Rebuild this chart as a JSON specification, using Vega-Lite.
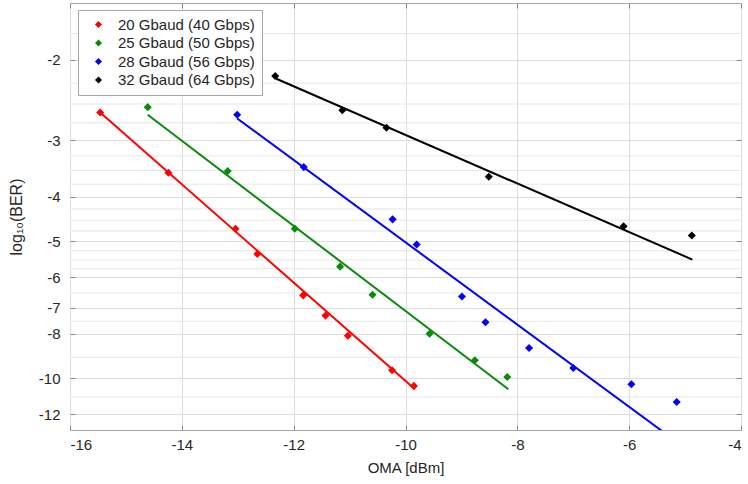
{
  "$schema": "https://vega.github.io/schema/vega-lite/v6.json",
  "width": 671,
  "height": 427,
  "autosize": {"type": "none"},
  "padding": {"left": 70, "top": 3, "right": 7, "bottom": 54},
  "config": {
    "font": "Liberation Sans",
    "view": {"stroke": "#a6a6a6", "strokeWidth": 1},
    "axis": {
      "labelFont": "Liberation Sans",
      "titleFont": "Liberation Sans",
      "labelFontSize": 15,
      "titleFontSize": 15,
      "titleFontWeight": "normal",
      "labelColor": "#262626",
      "titleColor": "#262626",
      "tickColor": "#8a8a8a",
      "gridColor": "#dedede",
      "domain": false
    }
  },
  "datasets": {
    "pts": [
      {"series": "20 Gbaud (40 Gbps)", "oma": -15.46, "ber": -2.61},
      {"series": "20 Gbaud (40 Gbps)", "oma": -14.24, "ber": -3.54},
      {"series": "20 Gbaud (40 Gbps)", "oma": -13.04, "ber": -4.70},
      {"series": "20 Gbaud (40 Gbps)", "oma": -12.65, "ber": -5.34},
      {"series": "20 Gbaud (40 Gbps)", "oma": -11.83, "ber": -6.58},
      {"series": "20 Gbaud (40 Gbps)", "oma": -11.43, "ber": -7.29},
      {"series": "20 Gbaud (40 Gbps)", "oma": -11.03, "ber": -8.07},
      {"series": "20 Gbaud (40 Gbps)", "oma": -10.24, "ber": -9.61},
      {"series": "20 Gbaud (40 Gbps)", "oma": -9.85, "ber": -10.40},
      {"series": "25 Gbaud (50 Gbps)", "oma": -14.61, "ber": -2.54},
      {"series": "25 Gbaud (50 Gbps)", "oma": -13.18, "ber": -3.51},
      {"series": "25 Gbaud (50 Gbps)", "oma": -11.98, "ber": -4.70},
      {"series": "25 Gbaud (50 Gbps)", "oma": -11.17, "ber": -5.69},
      {"series": "25 Gbaud (50 Gbps)", "oma": -10.59, "ber": -6.56},
      {"series": "25 Gbaud (50 Gbps)", "oma": -9.57, "ber": -7.99},
      {"series": "25 Gbaud (50 Gbps)", "oma": -8.76, "ber": -9.14},
      {"series": "25 Gbaud (50 Gbps)", "oma": -8.18, "ber": -9.94},
      {"series": "28 Gbaud (56 Gbps)", "oma": -13.01, "ber": -2.64},
      {"series": "28 Gbaud (56 Gbps)", "oma": -11.82, "ber": -3.44},
      {"series": "28 Gbaud (56 Gbps)", "oma": -10.23, "ber": -4.48},
      {"series": "28 Gbaud (56 Gbps)", "oma": -9.80, "ber": -5.09},
      {"series": "28 Gbaud (56 Gbps)", "oma": -8.99, "ber": -6.62},
      {"series": "28 Gbaud (56 Gbps)", "oma": -8.57, "ber": -7.54},
      {"series": "28 Gbaud (56 Gbps)", "oma": -7.79, "ber": -8.59},
      {"series": "28 Gbaud (56 Gbps)", "oma": -7.00, "ber": -9.50},
      {"series": "28 Gbaud (56 Gbps)", "oma": -5.96, "ber": -10.31},
      {"series": "28 Gbaud (56 Gbps)", "oma": -5.15, "ber": -11.28},
      {"series": "32 Gbaud (64 Gbps)", "oma": -12.33, "ber": -2.17},
      {"series": "32 Gbaud (64 Gbps)", "oma": -11.13, "ber": -2.58},
      {"series": "32 Gbaud (64 Gbps)", "oma": -10.34, "ber": -2.82},
      {"series": "32 Gbaud (64 Gbps)", "oma": -8.51, "ber": -3.61},
      {"series": "32 Gbaud (64 Gbps)", "oma": -6.10, "ber": -4.64},
      {"series": "32 Gbaud (64 Gbps)", "oma": -4.88, "ber": -4.86}
    ],
    "fits": [
      {"series": "20 Gbaud (40 Gbps)", "oma": -15.46, "ber": -2.61},
      {"series": "20 Gbaud (40 Gbps)", "oma": -9.83, "ber": -10.58},
      {"series": "25 Gbaud (50 Gbps)", "oma": -14.61, "ber": -2.64},
      {"series": "25 Gbaud (50 Gbps)", "oma": -8.16, "ber": -10.58},
      {"series": "28 Gbaud (56 Gbps)", "oma": -13.01, "ber": -2.69},
      {"series": "28 Gbaud (56 Gbps)", "oma": -5.40, "ber": -13.1},
      {"series": "32 Gbaud (64 Gbps)", "oma": -12.31, "ber": -2.20},
      {"series": "32 Gbaud (64 Gbps)", "oma": -4.87, "ber": -5.49}
    ],
    "minor": [
      {"ber": -1.75}, {"ber": -2.25}, {"ber": -2.5}, {"ber": -2.75},
      {"ber": -3.25}, {"ber": -3.5}, {"ber": -3.75},
      {"ber": -4.25}, {"ber": -4.5}, {"ber": -4.75},
      {"ber": -5.25}, {"ber": -5.5}, {"ber": -5.75},
      {"ber": -6.5}, {"ber": -7.5}, {"ber": -9}, {"ber": -11}
    ]
  },
  "resolve": {"axis": {"x": "independent", "y": "independent"}},
  "layer": [
    {
      "data": {"name": "minor"},
      "mark": {"type": "rule", "color": "#e6e6e6", "strokeWidth": 1},
      "encoding": {
        "y": {
          "field": "ber", "type": "quantitative",
          "scale": {"type": "log", "domain": [-13, -1.5], "nice": false, "zero": false},
          "axis": {"orient": "right", "values": [-2, -3, -4, -5, -6, -7, -8, -10, -12], "labels": false, "grid": false, "tickSize": -5, "title": null}
        }
      }
    },
    {
      "data": {"name": "fits"},
      "mark": {"type": "line", "strokeWidth": 2, "clip": true},
      "encoding": {
        "x": {
          "field": "oma", "type": "quantitative",
          "scale": {"domain": [-16, -4], "nice": false, "zero": false},
          "axis": {"orient": "top", "values": [-16, -14, -12, -10, -8, -6, -4], "labels": false, "grid": false, "tickSize": -5, "title": null}
        },
        "y": {"field": "ber", "type": "quantitative", "axis": null},
        "color": {"field": "series", "type": "nominal"},
        "detail": {"field": "series"}
      }
    },
    {
      "data": {"name": "pts"},
      "mark": {"type": "point", "shape": "diamond", "filled": true, "size": 65, "opacity": 1},
      "encoding": {
        "x": {
          "field": "oma", "type": "quantitative",
          "axis": {"orient": "bottom", "values": [-16, -14, -12, -10, -8, -6, -4], "labelExpr": "toString(datum.value)", "grid": true, "tickSize": -5, "labelPadding": 12, "title": "OMA [dBm]", "titlePadding": 8}
        },
        "y": {
          "field": "ber", "type": "quantitative",
          "axis": {"orient": "left", "values": [-2, -3, -4, -5, -6, -7, -8, -10, -12], "labelExpr": "toString(datum.value)", "grid": true, "tickSize": -5, "labelPadding": 15, "title": "log₁₀(BER)", "titleFontSize": 16, "titlePadding": 14}
        },
        "color": {
          "field": "series", "type": "nominal",
          "scale": {"domain": ["20 Gbaud (40 Gbps)", "25 Gbaud (50 Gbps)", "28 Gbaud (56 Gbps)", "32 Gbaud (64 Gbps)"], "range": ["#ff0000", "#0a8a0a", "#0000ff", "#000000"]},
          "legend": {
            "orient": "none", "legendX": 8, "legendY": 7, "title": null,
            "strokeColor": "#a6a6a6", "fillColor": "#ffffff", "padding": 7,
            "labelFontSize": 15, "labelColor": "#262626", "labelFont": "Liberation Sans",
            "symbolType": "diamond", "symbolSize": 50, "symbolStrokeWidth": 0, "symbolOffset": 6,
            "rowPadding": 2.5, "labelOffset": 12, "labelLimit": 300
          }
        }
      }
    }
  ]
}
